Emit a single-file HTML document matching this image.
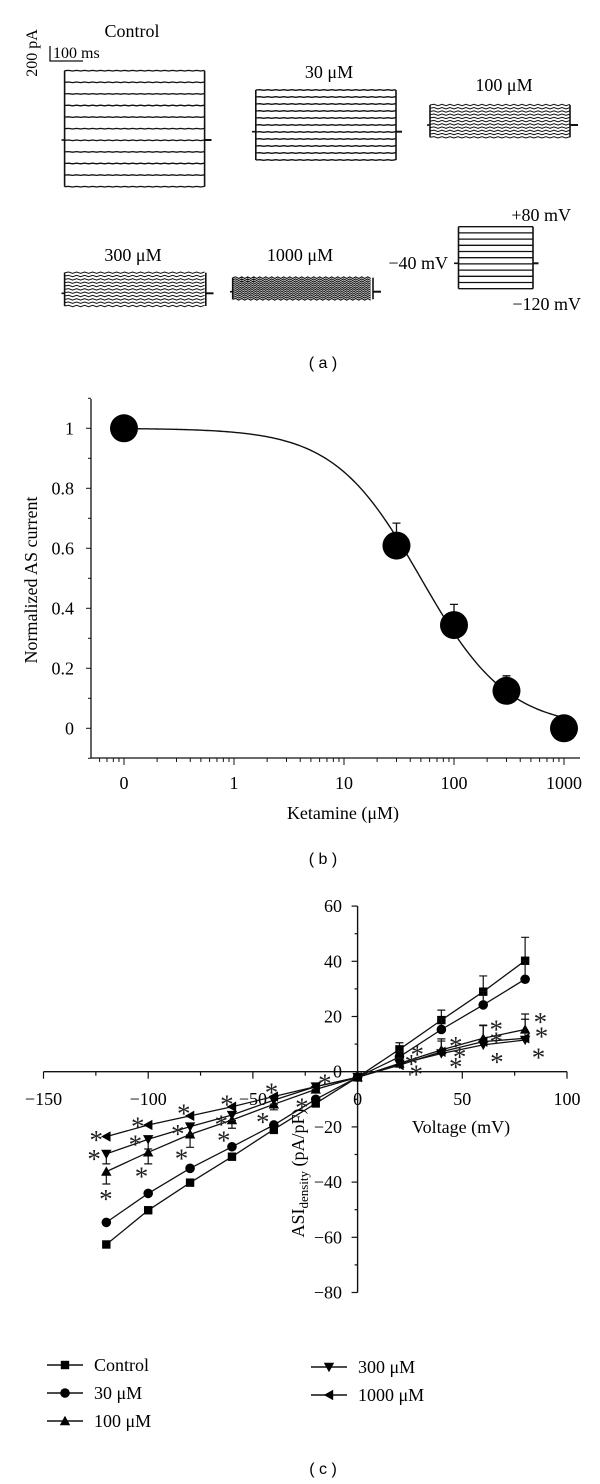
<!DOCTYPE html>
<html><head><meta charset="utf-8"><style>
html,body{margin:0;padding:0;background:#fff;}
svg{display:block;font-family:"Liberation Serif",serif;}
.s{font-family:"Liberation Sans",sans-serif;}
</style></head><body>
<svg id="fig" width="600" height="1484" viewBox="0 0 600 1484" xmlns="http://www.w3.org/2000/svg">
<g id="pa"></g>
<g id="pb"></g>
<g id="pc"></g>
</svg>
<script>
// ---------- Panel (b) data ----------
const bConc = [0.1, 30, 100, 300, 1000];
const bConcLabels = ["0", "1", "10", "100", "1000"];
const bVals = [1.0, 0.609, 0.344, 0.125, 0.0];
const bErr = [0, 0.075, 0.069, 0.05, 0];
const bYTicks = [0, 0.2, 0.4, 0.6, 0.8, 1];
const bFitIC50 = [50];
const bFitHill = [1.1];

// ---------- Panel (c) data ----------
const cVolt = [-120, -100, -80, -60, -40, -20, 0, 20, 40, 60, 80];
const cControl = [-62.6, -50.2, -40.2, -30.8, -20.9, -11.5, -2, 8.1, 18.7, 29, 40.2];
const c30 = [-54.6, -44.1, -35, -27.2, -19.3, -10, -2, 5.4, 15.3, 24.2, 33.5];
const c100 = [-36.2, -29.2, -22.7, -17.5, -11.8, -6.4, -2, 3, 7.9, 12.1, 15.3];
const c300 = [-29.8, -24.5, -19.9, -15.7, -10.3, -5.4, -2, 2.8, 6.6, 9.7, 11.5];
const c1000 = [-23.5, -19.3, -16, -12.7, -9, -5.4, -2, 2.4, 7.2, 10.9, 12.1];
const cErrControl = [0, 0, 0, 0, 1.5, 1, 0, 2.4, 3.6, 5.7, 8.5];
const cErr30 = [0, 0, 0, 0, 0, 0, 0, 2, 4, 5, 6.6];
const cErr100 = [4.5, 4.2, 4.7, 3, 2, 1, 0, 2, 4, 4.8, 5.6];
const cErr300 = [3.6, 3.5, 3, 2, 1.5, 1, 0, 2, 4.5, 7, 7.5];
const cErr1000 = [0, 0, 0, 0, 0, 0, 0, 0, 0, 0, 0];
const cXTicks = [-150, -100, -50, 0, 50, 100];
const cYTicks = [-80, -60, -40, -20, 0, 20, 40, 60];
const starV = [-124.8,-125.8,-120.2,-105,-106.1,-103.2,-83,-85.9,-84.1,-62.4,-65.1,-63.9,-41.1,-45.3,-26.6,-15.6,28.5,25.7,28,46.9,48.7,46.9,66.2,66.2,66.5,87.3,87.8,86.4];
const starI = [-22.9,-29.8,-44.4,-18.1,-24.5,-36.2,-13.3,-20.8,-29.6,-10,-17.3,-23.2,-5.8,-16.5,-11.2,-2.4,8.1,4.6,0.8,11.2,7.2,3.6,17.1,12.7,5.4,19.9,14.5,6.9];

const NS = "http://www.w3.org/2000/svg";
function mk(parent, tag, attrs, text) {
  const e = document.createElementNS(NS, tag);
  for (const k in attrs) e.setAttribute(k, attrs[k]);
  if (text !== undefined) e.textContent = text;
  parent.appendChild(e);
  return e;
}

// ================= Panel (a) =================
const pa = document.getElementById('pa');
function trace(name, x0, x1, yT, yB, yM, n, sL, sR, wav, step, sw) {
  const g = mk(pa, 'g', {});
  
  
  for (let i = 0; i < n; i++) {
    const y = yT + (yB - yT) * i / (n - 1);
    let d = 'M' + x0 + ' ' + y;
    if (wav > 0) {
      for (let x = x0 + step, k = 0; x <= x1; x += step, k++) d += ' L' + x + ' ' + (y + (k % 2 ? wav : -wav));
    } else d += ' L' + x1 + ' ' + y;
    mk(g, 'path', {d: d, stroke: '#111', 'stroke-width': sw, fill: 'none'});
  }
  mk(g, 'line', {x1: x0, y1: yT, x2: x0, y2: yB, stroke: '#111', 'stroke-width': 1.6});
  mk(g, 'line', {x1: x1, y1: yT, x2: x1, y2: yB, stroke: '#111', 'stroke-width': 1.6});
  mk(g, 'line', {x1: sL, y1: yM, x2: x0, y2: yM, stroke: '#111', 'stroke-width': 1.6});
  mk(g, 'line', {x1: x1, y1: yM, x2: sR, y2: yM, stroke: '#111', 'stroke-width': 2});
}
trace('trace-control', 64.6, 204.6, 70.7, 186.7, 140, 11, 61.5, 211.5, 0.3, 4, 1.3);
trace('trace-30um', 255.8, 396, 90, 160, 131.7, 11, 252, 402, 0.3, 4, 1.3);
trace('trace-100um', 430, 570, 105, 137.3, 125, 11, 427, 578, 0.7, 4, 1);
trace('trace-300um', 64.6, 205.8, 272.7, 306, 293.3, 11, 61.5, 213.5, 0.7, 4, 1);
trace('trace-1000um', 232.7, 373, 277.7, 299.3, 291.7, 12, 230, 381, 0.8, 3, 1.1);
trace('voltage-protocol', 458.5, 533, 226.7, 288.7, 263.3, 11, 454, 538.5, 0, 4, 1.3);

let t;
t = mk(pa, 'text', {x: 132, y: 37, 'font-size': 18, 'text-anchor': 'middle'}, 'Control');
 
t = mk(pa, 'text', {x: 329, y: 78, 'font-size': 18, 'text-anchor': 'middle'}, '30 μM');
 
t = mk(pa, 'text', {x: 504, y: 91, 'font-size': 18, 'text-anchor': 'middle'}, '100 μM');
 
t = mk(pa, 'text', {x: 133, y: 261, 'font-size': 18, 'text-anchor': 'middle'}, '300 μM');
 
t = mk(pa, 'text', {x: 300, y: 261, 'font-size': 18, 'text-anchor': 'middle'}, '1000 μM');
 
t = mk(pa, 'text', {x: 571, y: 221, 'font-size': 18, 'text-anchor': 'end'}, '+80 mV');
 
t = mk(pa, 'text', {x: 448, y: 269, 'font-size': 18, 'text-anchor': 'end'}, '−40 mV');
 
t = mk(pa, 'text', {x: 581, y: 310, 'font-size': 18, 'text-anchor': 'end'}, '−120 mV');
 
t = mk(pa, 'text', {x: 37, y: 53, 'font-size': 16, 'text-anchor': 'middle', transform: 'rotate(-90 37 53)'}, '200 pA');
 
t = mk(pa, 'text', {x: 53, y: 58, 'font-size': 16}, '100 ms');
 
t = mk(pa, 'path', {d: 'M50 46 L50 61 L83 61', stroke: '#111', 'stroke-width': 1.3, fill: 'none'});
 
t = mk(pa, 'text', {x: 323, y: 368, 'font-size': 16, 'text-anchor': 'middle', class: 's'}, '( a )');
 

// ================= Panel (b) =================
const pb = document.getElementById('pb');
const bx = c => 124 + (Math.log10(c) + 1) * 110;
const by = v => 728.3 - v * 300;
let e;
e = mk(pb, 'line', {x1: 91, y1: 399, x2: 91, y2: 758, stroke: '#111', 'stroke-width': 1.3});
 
e = mk(pb, 'line', {x1: 91, y1: 758, x2: 580, y2: 758, stroke: '#111', 'stroke-width': 1.3});
 
for (let v = -0.1; v <= 1.101; v += 0.1) {
  const major = Math.abs(Math.round(v * 10) % 2) === 0;
  mk(pb, 'line', {x1: major ? 86 : 88, y1: by(v), x2: 91, y2: by(v), stroke: '#111', 'stroke-width': 1});
}
bYTicks.forEach(v => {
  const tt = mk(pb, 'text', {x: 74, y: by(v) + 6, 'font-size': 18, 'text-anchor': 'end'}, String(v));
   
});
for (let d = -2; d <= 3; d++) {
  for (let m = 1; m <= 9; m++) {
    const c = m * Math.pow(10, d);
    const x = bx(c);
    if (x < 92 || x > 580) continue;
    mk(pb, 'line', {x1: x, y1: 758, x2: x, y2: m === 1 ? 765 : 762, stroke: '#111', 'stroke-width': 1});
  }
}
bConcLabels.forEach((l, i) => {
  const tt = mk(pb, 'text', {x: bx(Math.pow(10, i - 1)), y: 789, 'font-size': 18, 'text-anchor': 'middle'}, l);
   
});
e = mk(pb, 'text', {x: 343, y: 819, 'font-size': 18, 'text-anchor': 'middle'}, 'Ketamine (μM)');
 
e = mk(pb, 'text', {x: 37, y: 580, 'font-size': 18, 'text-anchor': 'middle', transform: 'rotate(-90 37 580)'}, 'Normalized AS current');
 
let d = '';
for (let lc = -1; lc <= 3.0001; lc += 0.02) {
  const c = Math.pow(10, lc);
  const v = 1 / (1 + Math.pow(c / bFitIC50[0], bFitHill[0]));
  d += (d ? ' L' : 'M') + bx(c).toFixed(2) + ' ' + by(v).toFixed(2);
}
e = mk(pb, 'path', {d: d, stroke: '#111', 'stroke-width': 1.4, fill: 'none'});
 
bConc.forEach((c, i) => {
  if (bErr[i] > 0) {
    const x = bx(c), y1 = by(bVals[i]), y2 = by(bVals[i] + bErr[i]);
    mk(pb, 'path', {d: `M${x} ${y1} L${x} ${y2} M${x - 4} ${y2} L${x + 4} ${y2}`, stroke: '#111', 'stroke-width': 1.3, fill: 'none'});
  }
  const p = mk(pb, 'circle', {cx: bx(c), cy: by(bVals[i]), r: 14, fill: '#000'});
  
  
});
e = mk(pb, 'text', {x: 323, y: 864, 'font-size': 16, 'text-anchor': 'middle', class: 's'}, '( b )');
 

// ================= Panel (c) =================
const pc = document.getElementById('pc');
const cx = v => 357.6 + v * 2.094;
const cy = v => 1071.7 - v * 2.76;
e = mk(pc, 'line', {x1: cx(-150), y1: cy(0), x2: cx(100), y2: cy(0), stroke: '#111', 'stroke-width': 1.4});
 
e = mk(pc, 'line', {x1: cx(0), y1: cy(60), x2: cx(0), y2: cy(-80), stroke: '#111', 'stroke-width': 1.4});
 
for (let v = -150; v <= 100; v += 25) {
  const major = v % 50 === 0;
  mk(pc, 'line', {x1: cx(v), y1: cy(0), x2: cx(v), y2: cy(0) + (major ? 7 : 4), stroke: '#111', 'stroke-width': 1.2});
}
for (let v = -80; v <= 60; v += 10) {
  const major = v % 20 === 0;
  mk(pc, 'line', {x1: cx(0) - (major ? 6 : 3), y1: cy(v), x2: cx(0), y2: cy(v), stroke: '#111', 'stroke-width': 1.2});
}
cXTicks.forEach(v => {
  const tt = mk(pc, 'text', {x: cx(v), y: 1105, 'font-size': 18, 'text-anchor': 'middle'}, v < 0 ? '−' + (-v) : String(v));
   
});
cYTicks.forEach(v => {
  const tt = mk(pc, 'text', {x: 342, y: cy(v) + 6, 'font-size': 18, 'text-anchor': 'end'}, v < 0 ? '−' + (-v) : String(v));
   
});
e = mk(pc, 'text', {x: 461, y: 1133, 'font-size': 18, 'text-anchor': 'middle'}, 'Voltage (mV)');
 
e = mk(pc, 'text', {x: 304, y: 1173, 'font-size': 18, 'text-anchor': 'middle', transform: 'rotate(-90 304 1173)'});
 
mk(e, 'tspan', {}, 'ASI');
mk(e, 'tspan', {'font-size': 13, dy: 4}, 'density');
mk(e, 'tspan', {dy: -4}, ' (pA/pF)');

function marker(g, type, x, y, s) {
  if (type === 'square') return mk(g, 'rect', {x: x - s, y: y - s, width: 2 * s, height: 2 * s, fill: '#000'});
  if (type === 'circle') return mk(g, 'circle', {cx: x, cy: y, r: s + 0.6, fill: '#000'});
  if (type === 'up') return mk(g, 'path', {d: `M${x} ${y - s - 1} L${x + s + 1} ${y + s} L${x - s - 1} ${y + s}Z`, fill: '#000'});
  if (type === 'down') return mk(g, 'path', {d: `M${x} ${y + s + 1} L${x + s + 1} ${y - s} L${x - s - 1} ${y - s}Z`, fill: '#000'});
  if (type === 'left') return mk(g, 'path', {d: `M${x - s - 1} ${y} L${x + s} ${y - s - 1} L${x + s} ${y + s + 1}Z`, fill: '#000'});
}
const series = [
  {name: 'series-control', vals: cControl, err: cErrControl, type: 'square'},
  {name: 'series-30um', vals: c30, err: cErr30, type: 'circle'},
  {name: 'series-100um', vals: c100, err: cErr100, type: 'up'},
  {name: 'series-300um', vals: c300, err: cErr300, type: 'down'},
  {name: 'series-1000um', vals: c1000, err: cErr1000, type: 'left'}
];
series.forEach(s => {
  const g = mk(pc, 'g', {});
  
  
  s.vals.forEach((v, i) => {
    if (s.err[i] > 0) {
      const x = cx(cVolt[i]);
      const y2 = cy(v + (v >= 0 ? s.err[i] : -s.err[i]));
      mk(g, 'path', {d: `M${x} ${cy(v)} L${x} ${y2} M${x - 4} ${y2} L${x + 4} ${y2}`, stroke: '#111', 'stroke-width': 1.2, fill: 'none'});
    }
  });
  const pd = s.vals.map((v, i) => (i ? 'L' : 'M') + cx(cVolt[i]).toFixed(1) + ' ' + cy(v).toFixed(1)).join(' ');
  mk(g, 'path', {d: pd, stroke: '#111', 'stroke-width': 1.3, fill: 'none'});
  s.vals.forEach((v, i) => {
    const m = marker(g, s.type, cx(cVolt[i]), cy(v), 4.2);
    
    
  });
});
starV.forEach((v, i) => {
  const st = mk(pc, 'text', {x: cx(v), y: cy(starI[i]) + 14, 'font-size': 27, 'text-anchor': 'middle', fill: '#222'}, '*');
  
  
});

const leg = [
  {label: 'Control', type: 'square', x: 47, y: 1365},
  {label: '30 μM', type: 'circle', x: 47, y: 1393},
  {label: '100 μM', type: 'up', x: 47, y: 1421},
  {label: '300 μM', type: 'down', x: 311, y: 1367},
  {label: '1000 μM', type: 'left', x: 311, y: 1395}
];
leg.forEach(l => {
  const g = mk(pc, 'g', {});
  
  
  mk(g, 'line', {x1: l.x, y1: l.y, x2: l.x + 36, y2: l.y, stroke: '#111', 'stroke-width': 1.4});
  marker(g, l.type, l.x + 18, l.y, 4.2);
  mk(g, 'text', {x: l.x + 47, y: l.y + 6, 'font-size': 18}, l.label);
});
e = mk(pc, 'text', {x: 323, y: 1474, 'font-size': 16, 'text-anchor': 'middle', class: 's'}, '( c )');
 
</script>
</body></html>
